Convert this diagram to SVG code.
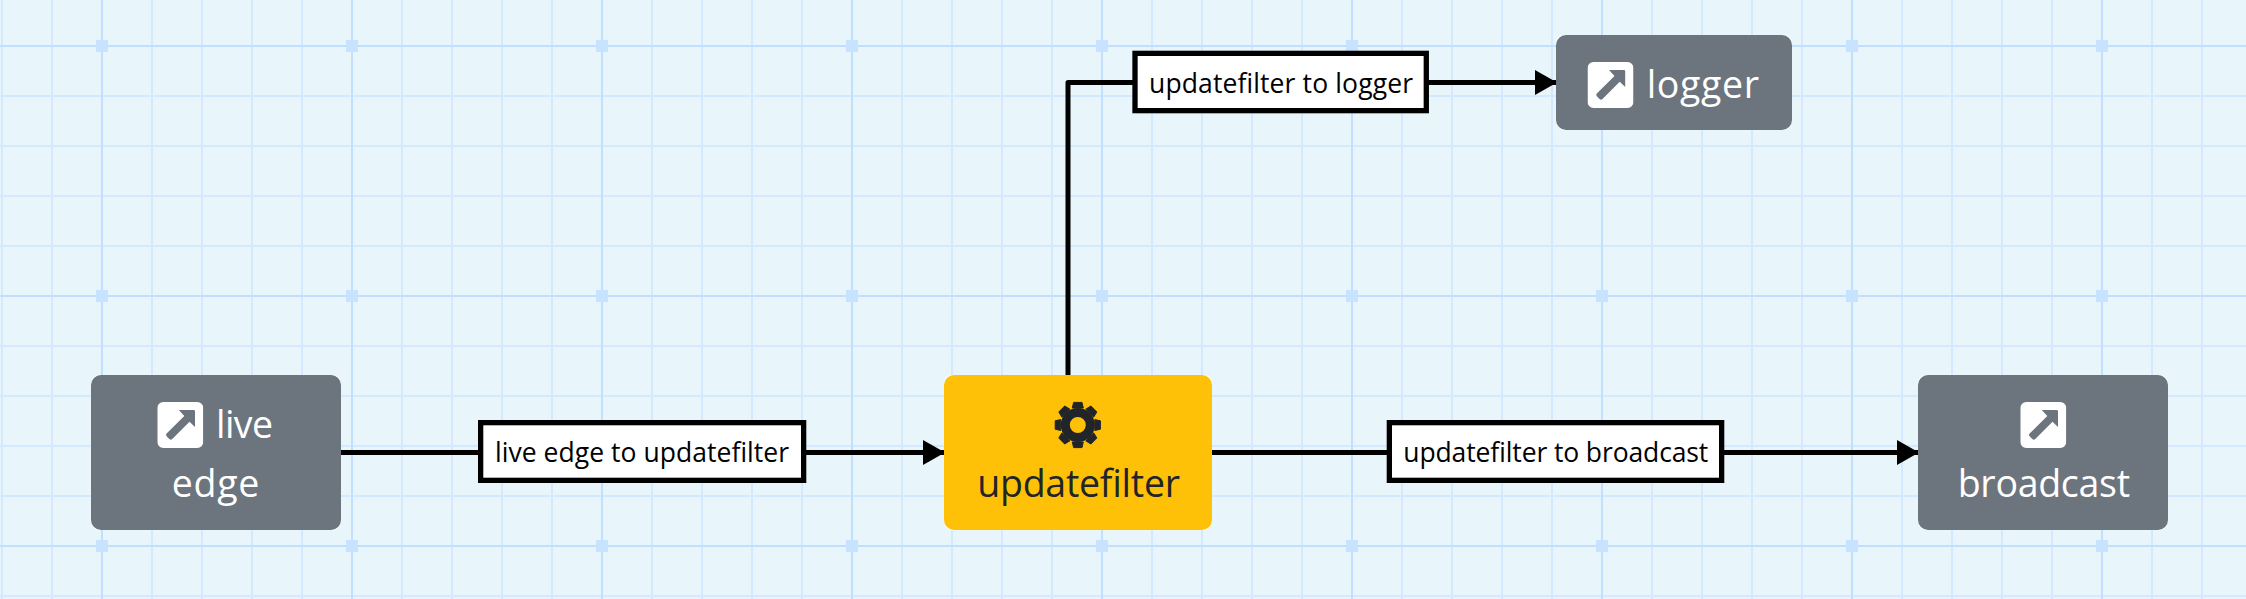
<svg xmlns="http://www.w3.org/2000/svg" width="2246" height="599" viewBox="0 0 2246 599">
<style>
text{font-family:"Open Sans","Noto Sans","Liberation Sans",sans-serif}
.ma{stroke:#c1dfff;stroke-width:2;fill:none}
.sq{fill:#c8e3ff}
.conn{stroke:#000;stroke-width:5;fill:none;stroke-linejoin:round}
.lb{fill:#fff;stroke:#000;stroke-width:5.300}
.lt{font-size:26.500px;fill:#000}
.under{fill:#fff}
.gr{fill:#6c757d}
.nt{font-size:37.500px}
.w{fill:#fff}
.d{fill:#212529}
</style>
<defs>
<marker id="ah" markerUnits="userSpaceOnUse" markerWidth="22" markerHeight="26" refX="21" refY="13" orient="auto"><path d="M0 0.500L22 13L0 25.500z" fill="#000"/></marker>
<symbol id="ico" viewBox="0 0 46 46"><path fill="#fff" fill-rule="evenodd" d="M6 0H40A6 6 0 0 1 46 6V40A6 6 0 0 1 40 46H6A6 6 0 0 1 0 40V6A6 6 0 0 1 6 0ZM21.500 8H36.500Q37.700 8 37.700 9.200V25L32.200 19.800L15 37Q13.500 38.300 12 37L9.300 34.300Q8 32.800 9.300 31.500L27 14L21.500 8Z"/></symbol>
<path id="tooth" d="M-5.500 -17L-4.200 -22.600H4.200L5.500 -17z" fill="#212529" stroke="#212529" stroke-width="1" stroke-linejoin="round"/>
<pattern id="gmi" width="50" height="50" patternUnits="userSpaceOnUse" x="1" y="45"><rect width="50" height="2" fill="#d4e9ff"/><rect width="2" height="50" fill="#d4e9ff"/></pattern>
</defs>
<rect width="2246" height="599" fill="#e8f6fb"/>
<g id="grid">
<rect width="2246" height="599" fill="url(#gmi)"/>
<path class="ma" d="M0 46H2246M0 296H2246M0 546H2246M102 0V599M352 0V599M602 0V599M852 0V599M1102 0V599M1352 0V599M1602 0V599M1852 0V599M2102 0V599"/>
<path class="sq" d="M96 40h12v12h-12zM346 40h12v12h-12zM596 40h12v12h-12zM846 40h12v12h-12zM1096 40h12v12h-12zM1346 40h12v12h-12zM1596 40h12v12h-12zM1846 40h12v12h-12zM2096 40h12v12h-12zM96 290h12v12h-12zM346 290h12v12h-12zM596 290h12v12h-12zM846 290h12v12h-12zM1096 290h12v12h-12zM1346 290h12v12h-12zM1596 290h12v12h-12zM1846 290h12v12h-12zM2096 290h12v12h-12zM96 540h12v12h-12zM346 540h12v12h-12zM596 540h12v12h-12zM846 540h12v12h-12zM1096 540h12v12h-12zM1346 540h12v12h-12zM1596 540h12v12h-12zM1846 540h12v12h-12zM2096 540h12v12h-12z"/>
</g>
<g id="connectors">
<path class="conn" d="M341 452.500H944" marker-end="url(#ah)"/>
<path class="conn" d="M1212 452.500H1918" marker-end="url(#ah)"/>
<path class="conn" d="M1068 375V82.500H1556" marker-end="url(#ah)"/>
<g id="label-live"><rect class="lb" x="480.650" y="422.650" width="323" height="57.700"/><text class="lt" x="495" y="462" textLength="294">live edge to updatefilter</text></g>
<g id="label-broadcast"><rect class="lb" x="1389.350" y="422.650" width="332.300" height="57.700"/><text class="lt" x="1403.300" y="462" textLength="305">updatefilter to broadcast</text></g>
<g id="label-logger"><rect class="lb" x="1135" y="53.350" width="291.300" height="57.300"/><text class="lt" x="1149" y="92.500" textLength="264">updatefilter to logger</text></g>
</g>
<g id="node-live-edge"><rect class="under" x="91" y="375" width="250" height="155" rx="8"/><rect class="gr" x="91" y="375" width="250" height="155" rx="10"/><use href="#ico" x="157.300" y="402" width="46" height="46"/><text class="nt w" x="216" y="437.500" textLength="57">live</text><text class="nt w" x="171.700" y="497" textLength="87.700">edge</text></g>
<g id="node-updatefilter"><rect class="under" x="944" y="375" width="268" height="155" rx="8"/><rect fill="#ffc107" x="944" y="375" width="268" height="155" rx="10"/>
<g transform="translate(1077.800 425)"><circle r="12.500" fill="none" stroke="#212529" stroke-width="9"/><use href="#tooth"/><use href="#tooth" transform="rotate(45)"/><use href="#tooth" transform="rotate(90)"/><use href="#tooth" transform="rotate(135)"/><use href="#tooth" transform="rotate(180)"/><use href="#tooth" transform="rotate(225)"/><use href="#tooth" transform="rotate(270)"/><use href="#tooth" transform="rotate(315)"/></g>
<text class="nt d" x="977.300" y="497.300" textLength="202.700">updatefilter</text></g>
<g id="node-logger"><rect class="under" x="1556" y="35" width="236" height="95" rx="8"/><rect class="gr" x="1556" y="35" width="236" height="95" rx="10"/><use href="#ico" x="1587.500" y="62" width="46" height="46"/><text class="nt w" x="1646.700" y="97.700" textLength="112.300">logger</text></g>
<g id="node-broadcast"><rect class="under" x="1918" y="375" width="250" height="155" rx="8"/><rect class="gr" x="1918" y="375" width="250" height="155" rx="10"/><use href="#ico" x="2020.300" y="402" width="46" height="46"/><text class="nt w" x="1957.700" y="497" textLength="172.300">broadcast</text></g>
</svg>
